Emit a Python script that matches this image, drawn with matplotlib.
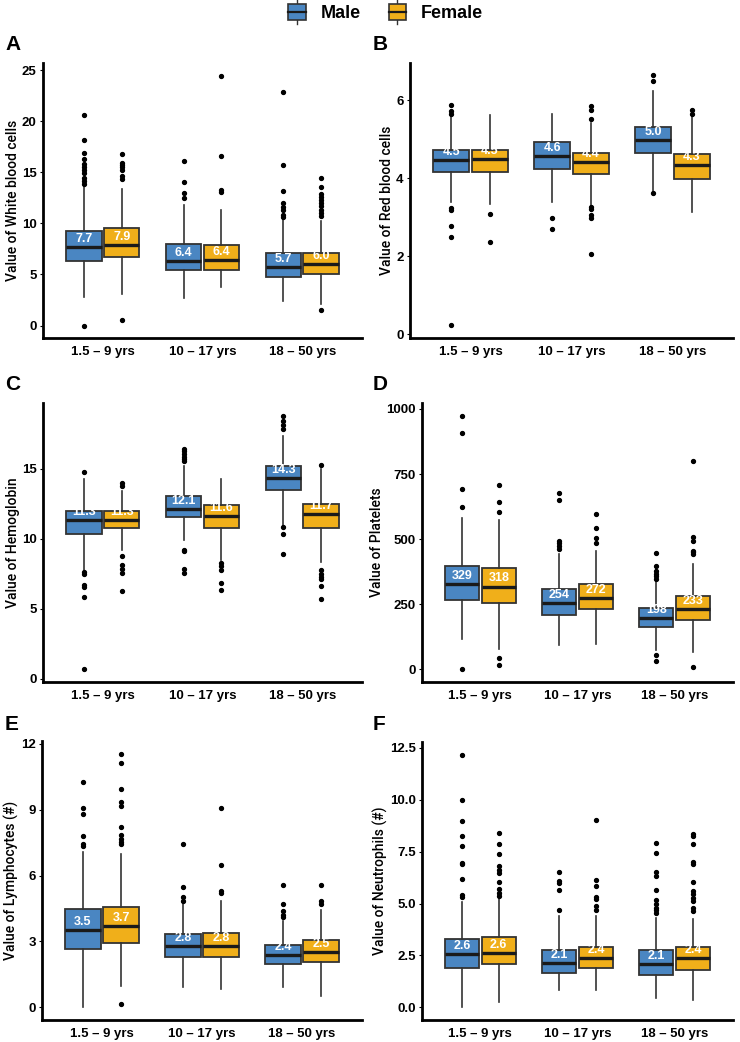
import matplotlib
matplotlib.use("Agg")
import matplotlib.pyplot as plt
from matplotlib.legend_handler import HandlerBase
from matplotlib.patches import Rectangle
from matplotlib.lines import Line2D

plt.rcParams['font.family'] = ['Liberation Sans', 'DejaVu Sans']

AGE_GROUPS = ["1.5 – 9 yrs", "10 – 17 yrs", "18 – 50 yrs"]
SEXES = ["Male", "Female"]
COLORS = {"Male": "#4A86C2", "Female": "#F0AF1A"}

# order of each list: [1.5-9 M, 1.5-9 F, 10-17 M, 10-17 F, 18-50 M, 18-50 F]
# ---- A: White blood cells
WBC_Q1 = [6.3, 6.7, 5.4, 5.4, 4.8, 5.0]
WBC_MED = [7.7, 7.9, 6.35, 6.4, 5.7, 6.0]
WBC_Q3 = [9.3, 9.6, 8.0, 7.9, 7.1, 7.1]
WBC_LO = [2.8, 3.1, 2.7, 3.8, 2.4, 2.1]
WBC_HI = [13.7, 13.4, 11.8, 11.3, 10.5, 10.2]
WBC_FLIERS = [
    [20.6, 18.2, 16.9, 16.3, 15.8, 15.5, 15.2, 14.9, 14.5, 14.2, 13.9, 0.0],
    [16.8, 15.9, 15.7, 15.5, 15.2, 14.7, 14.4, 0.5],
    [16.1, 14.1, 13.0, 12.5],
    [24.5, 16.6, 13.3, 13.1],
    [22.9, 15.7, 13.2, 12.0, 11.6, 11.3, 10.8, 10.6],
    [14.5, 13.6, 12.9, 12.6, 12.3, 12.0, 11.7, 11.3, 11.0, 10.7, 1.5],
]
WBC_LABELS = ["7.7", "7.9", "6.4", "6.4", "5.7", "6.0"]

# ---- B: Red blood cells
RBC_Q1 = [4.16, 4.16, 4.24, 4.11, 4.66, 3.98]
RBC_MED = [4.46, 4.50, 4.58, 4.41, 4.98, 4.33]
RBC_Q3 = [4.73, 4.73, 4.92, 4.64, 5.32, 4.63]
RBC_LO = [3.40, 3.33, 3.40, 3.16, 3.68, 3.14]
RBC_HI = [5.60, 5.62, 5.66, 5.41, 6.24, 5.60]
RBC_FLIERS = [
    [5.88, 5.72, 5.66, 3.23, 3.18, 2.78, 2.50, 0.22],
    [3.09, 2.36],
    [2.97, 2.71],
    [5.85, 5.76, 5.53, 3.27, 3.20, 3.05, 2.99, 2.06],
    [6.64, 6.51, 3.62],
    [5.75, 5.66],
]
RBC_LABELS = ["4.5", "4.5", "4.6", "4.4", "5.0", "4.3"]

# ---- C: Hemoglobin
HGB_Q1 = [10.36, 10.79, 11.55, 10.79, 13.50, 10.79]
HGB_MED = [11.31, 11.33, 12.12, 11.62, 14.33, 11.74]
HGB_Q3 = [12.02, 12.02, 13.05, 12.43, 15.19, 12.50]
HGB_LO = [7.74, 9.17, 9.93, 8.45, 10.95, 8.33]
HGB_HI = [14.3, 13.4, 15.17, 14.3, 17.38, 15.0]
HGB_FLIERS = [
    [14.8, 7.6, 7.5, 6.67, 6.55, 5.83, 0.67],
    [14.0, 13.8, 8.74, 8.1, 7.86, 7.57, 6.26],
    [16.4, 16.26, 16.07, 15.88, 15.7, 15.55, 9.21, 9.12, 7.86, 7.55],
    [8.26, 8.02, 7.79, 6.83, 6.36],
    [18.8, 18.45, 18.1, 17.86, 10.83, 10.36, 8.93],
    [15.3, 7.74, 7.5, 7.26, 7.14, 6.62, 5.67],
]
HGB_LABELS = ["11.3", "11.3", "12.1", "11.6", "14.3", "11.7"]

# ---- D: Platelets
PLT_Q1 = [267, 254, 209, 231, 164, 188]
PLT_MED = [329, 318, 254, 272, 198, 233]
PLT_Q3 = [397, 388, 308, 327, 237, 282]
PLT_LO = [115, 77, 94, 96, 73, 68]
PLT_HI = [583, 575, 442, 455, 397, 404]
PLT_FLIERS = [
    [974, 906, 692, 622, 0],
    [709, 642, 605, 42, 17],
    [676, 651, 494, 487, 472, 462],
    [596, 542, 506, 487],
    [446, 395, 378, 365, 359, 346, 55, 32],
    [799, 510, 494, 455, 449, 442, 9],
]
PLT_LABELS = ["329", "318", "254", "272", "198", "233"]

# ---- E: Lymphocytes
LYM_Q1 = [2.66, 2.93, 2.28, 2.28, 1.95, 2.05]
LYM_MED = [3.50, 3.69, 2.81, 2.78, 2.39, 2.51]
LYM_Q3 = [4.48, 4.56, 3.34, 3.37, 2.84, 3.07]
LYM_LO = [0.0, 0.99, 0.91, 0.84, 0.91, 0.53]
LYM_HI = [7.07, 7.0, 4.71, 4.86, 3.95, 4.41]
LYM_FLIERS = [
    [10.26, 9.09, 8.81, 7.8, 7.45, 7.33],
    [11.55, 11.12, 9.95, 9.35, 9.19, 8.2, 7.83, 7.67, 7.52, 7.42, 0.15],
    [7.45, 5.47, 5.02, 4.86],
    [9.07, 6.5, 5.29, 5.2],
    [5.55, 4.71, 4.38, 4.22, 4.13],
    [5.55, 4.83, 4.71],
]
LYM_LABELS = ["3.5", "3.7", "2.8", "2.8", "2.4", "2.5"]

# ---- F: Neutrophils
NEU_Q1 = [1.92, 2.08, 1.68, 1.88, 1.57, 1.81]
NEU_MED = [2.55, 2.62, 2.12, 2.38, 2.07, 2.38]
NEU_Q3 = [3.29, 3.37, 2.76, 2.92, 2.76, 2.93]
NEU_LO = [0.0, 0.24, 0.85, 0.85, 0.45, 0.37]
NEU_HI = [5.1, 5.2, 4.38, 4.38, 4.33, 4.25]
NEU_FLIERS = [
    [12.18, 10.0, 8.97, 8.25, 7.77, 6.97, 6.89, 6.17, 5.42, 5.34],
    [8.38, 7.85, 7.4, 6.81, 6.62, 6.49, 6.06, 5.72, 5.53, 5.37],
    [6.54, 6.09, 6.01, 5.66, 4.68],
    [9.05, 6.14, 5.85, 5.34, 5.21, 4.89, 4.7],
    [7.93, 7.45, 6.54, 6.33, 5.66, 5.16, 4.97, 4.81, 4.68, 4.57],
    [8.37, 8.25, 7.88, 7.02, 6.89, 6.06, 5.61, 5.45, 5.29, 5.13, 4.81, 4.65],
]
NEU_LABELS = ["2.6", "2.6", "2.1", "2.4", "2.1", "2.4"]

PANELS = [
    ("A", "Value of White blood cells", WBC_Q1, WBC_MED, WBC_Q3, WBC_LO, WBC_HI, WBC_FLIERS, WBC_LABELS, [0, 5, 10, 15, 20, 25], ["0", "5", "10", "15", "20", "25"]),
    ("B", "Value of Red blood cells", RBC_Q1, RBC_MED, RBC_Q3, RBC_LO, RBC_HI, RBC_FLIERS, RBC_LABELS, [0, 2, 4, 6], ["0", "2", "4", "6"]),
    ("C", "Value of Hemoglobin", HGB_Q1, HGB_MED, HGB_Q3, HGB_LO, HGB_HI, HGB_FLIERS, HGB_LABELS, [0, 5, 10, 15], ["0", "5", "10", "15"]),
    ("D", "Value of Platelets", PLT_Q1, PLT_MED, PLT_Q3, PLT_LO, PLT_HI, PLT_FLIERS, PLT_LABELS, [0, 250, 500, 750, 1000], ["0", "250", "500", "750", "1000"]),
    ("E", "Value of Lymphocytes (#)", LYM_Q1, LYM_MED, LYM_Q3, LYM_LO, LYM_HI, LYM_FLIERS, LYM_LABELS, [0, 3, 6, 9, 12], ["0", "3", "6", "9", "12"]),
    ("F", "Value of Neutrophils (#)", NEU_Q1, NEU_MED, NEU_Q3, NEU_LO, NEU_HI, NEU_FLIERS, NEU_LABELS, [0, 2.5, 5, 7.5, 10, 12.5], ["0.0", "2.5", "5.0", "7.5", "10.0", "12.5"]),
]

W, H = 740, 1042
# axes rectangles in pixels: left, right, top, bottom
AX_PX = [
    (43, 362, 63, 338), (410, 733, 63, 338),
    (43, 362, 403, 682), (422, 733, 403, 682),
    (42, 362, 741, 1020), (422, 733, 742, 1020),
]

fig = plt.figure(figsize=(W / 100, H / 100), dpi=100)
EDGE = "#333333"
DODGE = 0.19
BOXW = 0.355

for (letter, ylabel, q1, med, q3, lo, hi, fliers, labels, yt, ytl), (l, r, t, b) in zip(PANELS, AX_PX):
    ax = fig.add_axes([l / W, 1 - b / H, (r - l) / W, (b - t) / H])
    stats, positions, colors = [], [], []
    for gi in range(len(AGE_GROUPS)):
        for si, sex in enumerate(SEXES):
            k = gi * 2 + si
            stats.append(dict(q1=q1[k], med=med[k], q3=q3[k], whislo=lo[k], whishi=hi[k], fliers=fliers[k]))
            positions.append(gi + 1 + (-DODGE if si == 0 else DODGE))
            colors.append(COLORS[sex])
    bp = ax.bxp(stats, positions=positions, widths=BOXW, patch_artist=True, showcaps=False,
                boxprops=dict(edgecolor=EDGE, linewidth=1.3),
                whiskerprops=dict(color=EDGE, linewidth=1.2),
                medianprops=dict(color="#1a1a1a", linewidth=2.4, solid_capstyle="butt"),
                flierprops=dict(marker="o", markersize=2.8, markerfacecolor="black",
                                markeredgecolor="black", linestyle="none"))
    for patch, c in zip(bp["boxes"], colors):
        patch.set_facecolor(c)
    for k, (x, m) in enumerate(zip(positions, med)):
        ax.annotate(labels[k], (x, m), xytext=(0, 1.5), textcoords="offset points",
                    ha="center", va="bottom", color="white", fontsize=9, fontweight="bold")
    allv = [v for f in fliers for v in f] + list(lo) + list(hi)
    vmin, vmax = min(allv), max(allv)
    pad = (vmax - vmin) * 0.05
    ax.set_ylim(vmin - pad, vmax + pad)
    ax.set_xlim(0.4, 3.6)
    ax.set_xticks([1, 2, 3])
    ax.set_xticklabels(AGE_GROUPS, fontsize=9.5, fontweight="bold")
    ax.set_yticks(yt)
    ax.set_yticklabels(ytl, fontsize=9.5, fontweight="bold")
    ax.set_ylabel(ylabel, fontsize=10, labelpad=1.5, family=["Roboto", "Liberation Sans"],
                  fontweight="medium")
    for s in ["top", "right"]:
        ax.spines[s].set_visible(False)
    for s in ["left", "bottom"]:
        ax.spines[s].set_linewidth(2.0)
        ax.spines[s].set_color("black")
    ax.tick_params(axis="both", length=2.5, width=0.8, colors="black", pad=2)
    ax.tick_params(axis="x", length=0, pad=6)
    fig.text((5 if letter in "ACE" else 373) / W, 1 - (45 if letter in "AB" else (385 if letter in "CD" else 725)) / H,
             letter, fontsize=15, fontweight="bold", ha="left", va="center")


class BoxKeyHandler(HandlerBase):
    def create_artists(self, legend, orig_handle, xdescent, ydescent, width, height, fontsize, trans):
        c = orig_handle.get_facecolor()
        bw = width * 0.9
        x0 = xdescent + (width - bw) / 2
        rect = Rectangle((x0, -ydescent + height * 0.05), bw, height * 0.9, facecolor=c,
                         edgecolor=EDGE, linewidth=1.2, transform=trans)
        med = Line2D([x0, x0 + bw], [-ydescent + height * 0.5] * 2, color="#1a1a1a", lw=1.6, transform=trans)
        wt = Line2D([x0 + bw / 2] * 2, [-ydescent + height * 0.95, -ydescent + height * 1.2], color=EDGE, lw=1, transform=trans)
        wb = Line2D([x0 + bw / 2] * 2, [-ydescent - height * 0.2, -ydescent + height * 0.05], color=EDGE, lw=1, transform=trans)
        return [wt, wb, rect, med]


handles = [Rectangle((0, 0), 1, 1, facecolor=COLORS[s]) for s in SEXES]
fig.legend(handles, SEXES, handler_map={Rectangle: BoxKeyHandler()}, loc="center",
           bbox_to_anchor=(385 / W, 1 - 13 / H), ncol=2, frameon=False,
           prop=dict(size=13, weight="bold"), handlelength=1.1, handleheight=1.1,
           columnspacing=1.5, handletextpad=0.75)

fig.savefig("out.png", dpi=100, facecolor="white")
